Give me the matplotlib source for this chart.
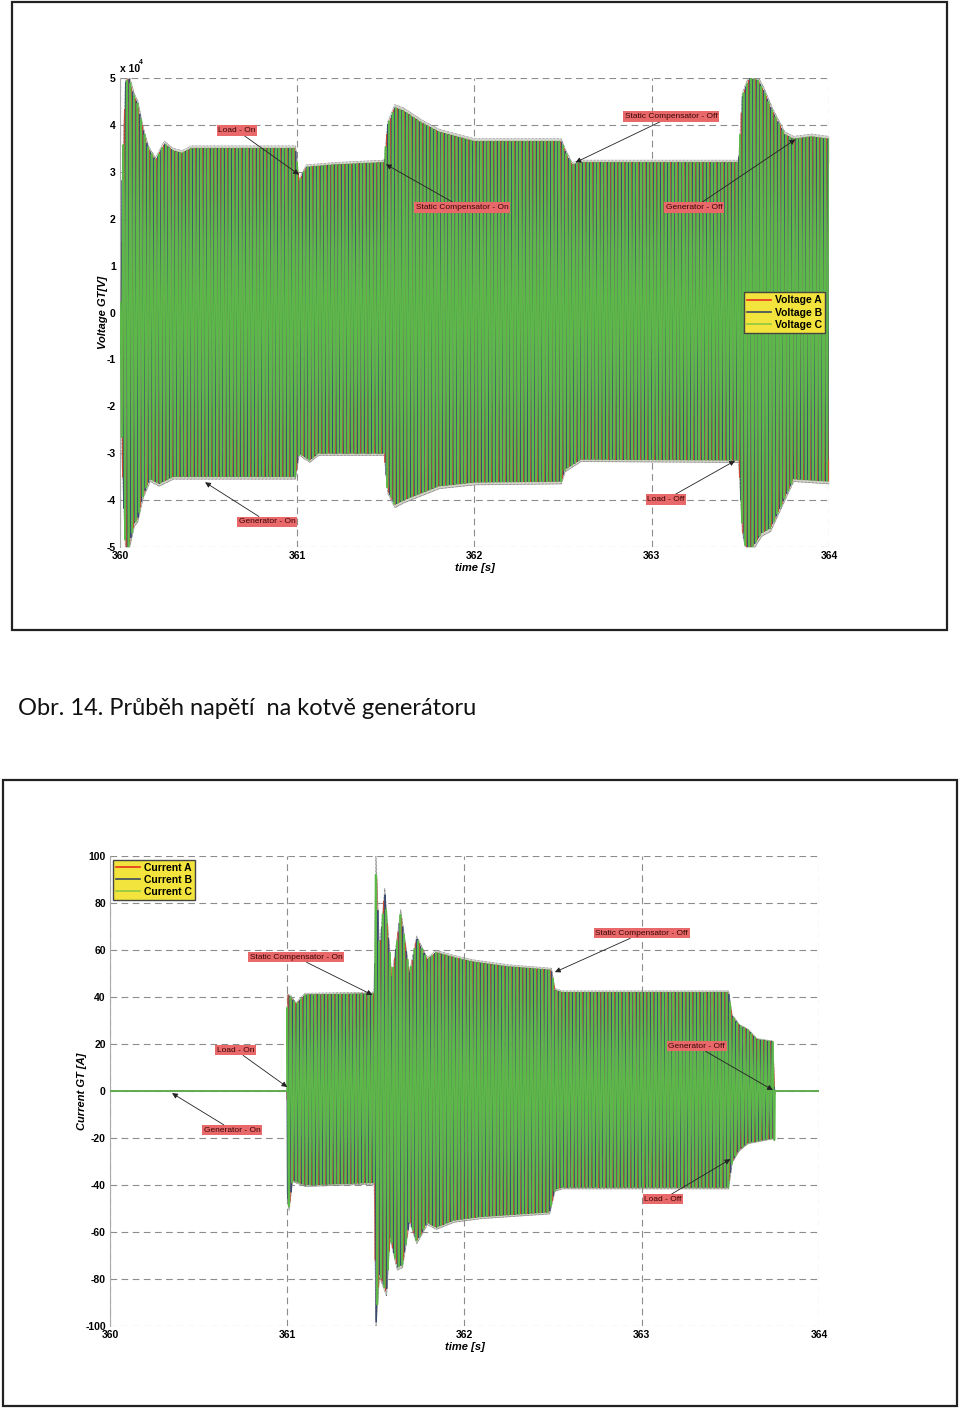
import numpy as np
import matplotlib.pyplot as plt
from matplotlib.patches import Rectangle
from matplotlib.lines import Line2D

plt.rcParams['font.family'] = ['Liberation Sans', 'DejaVu Sans']
plt.rcParams['axes.unicode_minus'] = False

# ---- data ----
# voltage envelope, units of 10^4 V
v_up_t = [360.00, 360.01, 360.03, 360.05, 360.08, 360.10, 360.13, 360.16, 360.20, 360.25, 360.30,
          360.35, 360.40, 360.70, 360.99, 361.01, 361.05, 361.20, 361.49, 361.51, 361.55, 361.60,
          361.70, 361.80, 362.00, 362.49, 362.51, 362.55, 362.60, 363.00, 363.49, 363.51, 363.55,
          363.60, 363.63, 363.68, 363.75, 363.80, 363.90, 364.00]
v_up = [0.0, 2.6, 4.9, 5.0, 4.6, 4.45, 3.9, 3.5, 3.25, 3.6, 3.45,
        3.4, 3.5, 3.5, 3.5, 2.8, 3.1, 3.15, 3.2, 4.0, 4.37, 4.3,
        4.05, 3.85, 3.65, 3.65, 3.45, 3.15, 3.2, 3.2, 3.2, 4.6, 5.0,
        4.95, 4.75, 4.3, 3.8, 3.7, 3.75, 3.7]
v_lo_t = [360.00, 360.01, 360.03, 360.05, 360.08, 360.10, 360.13, 360.17, 360.22, 360.30, 360.40,
          360.99, 361.01, 361.07, 361.12, 361.49, 361.51, 361.55, 361.60, 361.70, 361.80, 362.00,
          362.49, 362.51, 362.60, 363.49, 363.51, 363.53, 363.57, 363.62, 363.67, 363.72, 363.80,
          364.00]
v_lo = [0.0, -3.0, -5.0, -5.0, -4.5, -4.4, -3.9, -3.55, -3.65, -3.5, -3.5,
        -3.5, -3.0, -3.15, -3.0, -3.0, -3.8, -4.1, -4.0, -3.85, -3.7, -3.62,
        -3.6, -3.35, -3.13, -3.15, -4.6, -5.0, -5.0, -4.7, -4.6, -4.2, -3.55,
        -3.6]

# current envelope, A
i_up_t = [360.00, 360.999, 361.00, 361.02, 361.05, 361.10, 361.49, 361.50, 361.52, 361.55, 361.59,
          361.64, 361.69, 361.73, 361.79, 361.84, 361.96, 362.05, 362.24, 362.49, 362.51, 362.55,
          363.49, 363.51, 363.55, 363.60, 363.65, 363.74, 363.75, 364.00]
i_up = [0.0, 0.0, 41.0, 40.0, 37.0, 41.0, 41.5, 100.0, 60.0, 85.0, 48.0,
        76.0, 50.0, 65.0, 56.0, 59.0, 56.5, 55.0, 53.0, 51.5, 43.0, 42.0,
        42.0, 32.0, 28.0, 26.0, 22.0, 21.0, 0.0, 0.0]
i_lo_t = [360.00, 360.999, 361.00, 361.01, 361.03, 361.10, 361.49, 361.50, 361.52, 361.56, 361.58,
          361.62, 361.65, 361.69, 361.73, 361.79, 361.84, 361.94, 362.09, 362.48, 362.51, 362.55,
          363.49, 363.51, 363.55, 363.60, 363.74, 363.75, 363.751, 364.00]
i_lo = [0.0, 0.0, -45.0, -50.0, -38.0, -40.0, -39.0, -100.0, -78.0, -86.0, -62.0,
        -75.0, -74.0, -55.0, -64.0, -56.0, -58.0, -55.0, -53.5, -51.5, -42.0, -41.0,
        -41.0, -30.0, -25.0, -22.0, -20.0, -21.0, 0.0, 0.0]

v_names = ['Voltage A', 'Voltage B', 'Voltage C']
i_names = ['Current A', 'Current B', 'Current C']
phase_colors = ['#cc4a32', '#3a4a72', '#5cb848']
phase_widths = [0.6, 0.7, 1.2]
legend_colors = ['#e8321e', '#3b4a5e', '#8fc843']

v_events = ['Load - On', 'Static Compensator - On', 'Static Compensator - Off',
            'Generator - Off', 'Load - Off', 'Generator - On']
v_text_xy = [(360.66, 3.88), (361.93, 2.24), (363.11, 4.18), (363.24, 2.24), (363.08, -3.99), (360.83, -4.46)]
v_head_xy = [(361.01, 2.94), (361.50, 3.16), (362.57, 3.20), (363.81, 3.69), (363.47, -3.16), (360.48, -3.62)]

i_events = ['Static Compensator - On', 'Static Compensator - Off', 'Load - On',
            'Generator - Off', 'Generator - On', 'Load - Off']
i_text_xy = [(361.05, 57.0), (363.00, 67.2), (360.71, 17.4), (363.31, 19.1), (360.69, -16.6), (363.12, -46.0)]
i_head_xy = [(361.48, 40.9), (362.51, 50.6), (361.00, 1.7), (363.74, 0.4), (360.35, -0.9), (363.50, -29.0)]

t = np.linspace(360, 364, 16001)


def wave(shift, up_t, up, lo_t, lo):
    s = np.sin(2 * np.pi * 50 * (t - 360) + shift)
    e_up = np.interp(t, up_t, up)
    e_lo = np.interp(t, lo_t, lo)
    return np.where(s >= 0, s * e_up, -s * e_lo)


def draw_panel(ax, up_t, up, lo_t, lo, names, yticks, events, text_xy, head_xy):
    e_up = np.interp(t, up_t, up)
    e_lo = np.interp(t, lo_t, lo)
    ax.fill_between(t, e_up * 0.86, e_up * 1.015, color='#d2d2ca', lw=0, zorder=1)
    ax.fill_between(t, e_lo * 0.86, e_lo * 1.015, color='#d2d2ca', lw=0, zorder=1)
    ax.plot(t, e_up * 1.015, color='#555555', lw=0.5, ls=(0, (1, 1)), zorder=1)
    ax.plot(t, e_lo * 1.015, color='#555555', lw=0.5, ls=(0, (1, 1)), zorder=1)
    shifts = [0, -2 * np.pi / 3, 2 * np.pi / 3]
    for k in range(3):
        ax.plot(t, wave(shifts[k], up_t, up, lo_t, lo), color=phase_colors[k],
                lw=phase_widths[k], zorder=2 + k)

    ax.set_xlim(360, 364)
    ax.set_ylim(yticks[0], yticks[-1])
    ax.set_xticks([360, 361, 362, 363, 364])
    ax.set_yticks(yticks)
    ax.grid(True, color='#8c8c8c', ls=(0, (6, 4)), lw=0.8)
    for side in ['top', 'right', 'bottom']:
        ax.spines[side].set_visible(False)
    ax.spines['left'].set_color('#aaaaaa')
    ax.spines['left'].set_linewidth(0.8)
    ax.tick_params(length=0, labelsize=7.5, pad=3)
    for lab in ax.get_xticklabels() + ax.get_yticklabels():
        lab.set_fontweight('bold')
    ax.set_xlabel('time [s]', fontsize=8, fontweight='bold', style='italic', labelpad=1)

    for name, txy, hxy in zip(events, text_xy, head_xy):
        ax.annotate(name, xy=hxy, xytext=txy, fontsize=6, color='#3a0606',
                    ha='center', va='center', zorder=10,
                    bbox=dict(boxstyle='square,pad=0.2', fc='#e9686a', ec='none'),
                    arrowprops=dict(arrowstyle='-|>', color='#222222', lw=0.6, mutation_scale=8,
                                    shrinkA=0, shrinkB=0))

    handles = [Line2D([], [], color=legend_colors[k], lw=1.2) for k in range(3)]
    return handles


fig = plt.figure(figsize=(9.6, 14.08), dpi=100)

fig.patches.append(Rectangle((0.0125, 0.5526), 0.974, 0.446, transform=fig.transFigure,
                             fill=False, ec='#222222', lw=1.6))
fig.patches.append(Rectangle((0.003, 0.0014), 0.994, 0.4446, transform=fig.transFigure,
                             fill=False, ec='#222222', lw=1.6))

ax1 = fig.add_axes([0.125, 0.6115, 0.7385, 0.3331])
h1 = draw_panel(ax1, v_up_t, v_up, v_lo_t, v_lo, v_names, [-5, -4, -3, -2, -1, 0, 1, 2, 3, 4, 5],
                v_events, v_text_xy, v_head_xy)
ax1.set_ylabel('Voltage GT[V]', fontsize=8, fontweight='bold', style='italic', labelpad=-1)
ax1.text(0.0, 1.008, 'x 10', transform=ax1.transAxes, fontsize=7.5, fontweight='bold',
         ha='left', va='bottom')
ax1.text(0.0265, 1.026, '4', transform=ax1.transAxes, fontsize=5, fontweight='bold',
         ha='left', va='bottom')
leg1 = ax1.legend(h1, v_names, loc='upper right', bbox_to_anchor=(0.995, 0.543),
                  prop={'weight': 'bold', 'size': 7.5}, fancybox=False, framealpha=1,
                  facecolor='#f2e43c', edgecolor='#444444', handlelength=2.3, handletextpad=0.4,
                  borderpad=0.3, labelspacing=0.2, borderaxespad=0)
leg1.set_zorder(20)

ax2 = fig.add_axes([0.1146, 0.0582, 0.7385, 0.3338])
h2 = draw_panel(ax2, i_up_t, i_up, i_lo_t, i_lo, i_names,
                [-100, -80, -60, -40, -20, 0, 20, 40, 60, 80, 100],
                i_events, i_text_xy, i_head_xy)
ax2.set_ylabel('Current GT [A]', fontsize=8, fontweight='bold', style='italic', labelpad=-1)
leg2 = ax2.legend(h2, i_names, loc='upper left', bbox_to_anchor=(0.004, 0.992),
                  prop={'weight': 'bold', 'size': 7.5}, fancybox=False, framealpha=1,
                  facecolor='#f2e43c', edgecolor='#444444', handlelength=2.3, handletextpad=0.4,
                  borderpad=0.3, labelspacing=0.2, borderaxespad=0)
leg2.set_zorder(20)

fig.text(0.019, 0.497, 'Obr. 14. Průběh napětí  na kotvě generátoru', fontsize=17,
         family=['Lato', 'DejaVu Sans'], ha='left', va='center', color='#111111')

fig.savefig('out.png', dpi=100)
